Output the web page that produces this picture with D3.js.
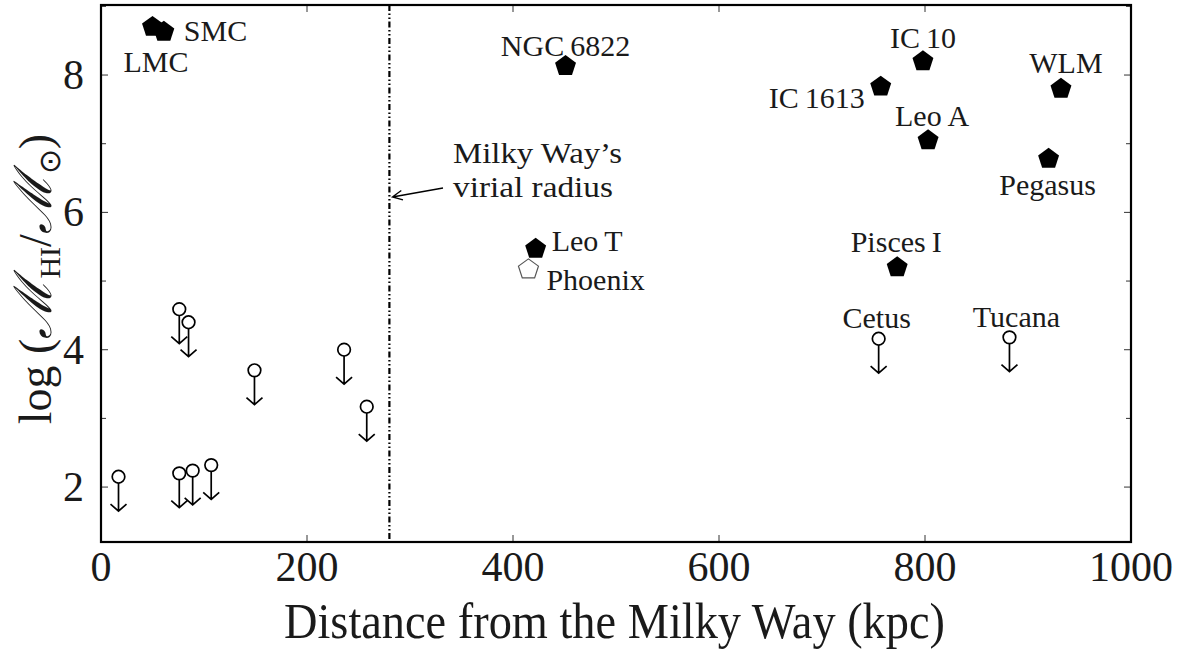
<!DOCTYPE html>
<html lang="en">
<head>
<meta charset="UTF-8">
<title>HI mass vs distance</title>
<script src="https://d3js.org/d3.v7.min.js"></script>
<style>
  body { margin: 0; background: #fff; }
  .frame { fill: none; stroke: #000; stroke-width: 2.2px; }
  .tick { stroke: #333; stroke-width: 1px; }
  .lim { fill: none; stroke: #000; stroke-width: 1.7px; }
</style>
</head>
<body>
<script>
// detected galaxies (filled pentagons)
const detNames = ["LMC", "SMC", "NGC\u20096822", "IC\u200910", "IC\u20091613", "WLM", "Leo A", "Pegasus", "Leo\u2009T", "Pisces\u2009I"];
const detDist  = [50, 61, 451, 798, 757, 932, 803, 920, 422, 773];
const detLogM  = [8.70, 8.63, 8.13, 8.20, 7.83, 7.80, 7.05, 6.78, 5.47, 5.20];

// Phoenix (open pentagon)
const phxDist = [415];
const phxLogM = [5.17];

// upper limits (open circle with arrow)
const limNames = ["", "", "", "", "", "", "", "", "", "Cetus", "Tucana"];
const limDist  = [17, 76, 85, 149, 236, 258, 76, 89, 107, 755, 882];
const limLogM  = [2.15, 4.59, 4.40, 3.70, 4.00, 3.17, 2.20, 2.24, 2.32, 4.16, 4.18];

// label placement (pixel offsets from the marker, anchor)
const labelPos = {
  "LMC": [-29, 45, "start"], "SMC": [20, 9, "start"], "NGC\u20096822": [0, -10, "middle"],
  "IC\u200910": [0, -13, "middle"], "IC\u20091613": [-16, 21, "end"], "WLM": [5, -16, "middle"],
  "Leo A": [4, -14, "middle"], "Pegasus": [-1, 36, "middle"], "Leo\u2009T": [16, 2, "start"],
  "Phoenix": [18, 21, "start"], "Pisces\u2009I": [-1, -15, "middle"],
  "Cetus": [-2, -11, "middle"], "Tucana": [7, -10, "middle"]
};

const virialR = 280;
const xTicks = [0, 200, 400, 600, 800, 1000];
const yTicks = [2, 3, 4, 5, 6, 7, 8, 9];
const yLabels = [2, 4, 6, 8];

const W = 1188, H = 651;
const m = { left: 101, right: 1131, top: 5, bottom: 542 };
const serif = "Liberation Serif";

const svg = d3.select("body").append("svg").attr("width", W).attr("height", H)
  .attr("font-family", serif);

const x = d3.scaleLinear().domain([0, 1000]).range([m.left, m.right]);
const y = d3.scaleLinear().domain([1.2, 9.02]).range([m.bottom, m.top]);

const txt = (sel) => sel.attr("font-family", serif).attr("fill", "#1a1a1a");

// ticks, inward on all four sides
const g = svg.append("g");
xTicks.forEach(t => {
  g.append("line").attr("class", "tick").attr("x1", x(t)).attr("x2", x(t)).attr("y1", m.bottom).attr("y2", m.bottom - 7);
  g.append("line").attr("class", "tick").attr("x1", x(t)).attr("x2", x(t)).attr("y1", m.top).attr("y2", m.top + 7);
  txt(g.append("text")).attr("x", x(t)).attr("y", 581).attr("text-anchor", "middle")
    .attr("font-size", 42).text(t);
});
yTicks.forEach(t => {
  if (t > 9.02) return;
  const len = yLabels.includes(t) ? 7 : 5;
  g.append("line").attr("class", "tick").attr("x1", m.left).attr("x2", m.left + len).attr("y1", y(t)).attr("y2", y(t));
  g.append("line").attr("class", "tick").attr("x1", m.right).attr("x2", m.right - len).attr("y1", y(t)).attr("y2", y(t));
});
yLabels.forEach(t => {
  txt(g.append("text")).attr("x", 84).attr("y", y(t) + 14).attr("text-anchor", "end")
    .attr("font-size", 42).text(t);
});

// virial radius line
svg.append("line")
  .attr("x1", x(virialR)).attr("x2", x(virialR)).attr("y1", m.top).attr("y2", m.bottom)
  .attr("stroke", "#000").attr("stroke-width", 2.2)
  .attr("stroke-dasharray", "6,2.5,1.5,2.5,1.5,2.5");

// frame
svg.append("rect").attr("class", "frame")
  .attr("x", m.left).attr("y", m.top).attr("width", m.right - m.left).attr("height", m.bottom - m.top);

// pentagon path
const pent = r => {
  const pts = d3.range(5).map(i => {
    const a = -Math.PI / 2 + i * 2 * Math.PI / 5;
    return [r * Math.cos(a), r * Math.sin(a)];
  });
  return d3.line()(pts) + "Z";
};

detNames.forEach((n, i) => {
  svg.append("path").attr("d", pent(11))
    .attr("transform", `translate(${x(detDist[i])},${y(detLogM[i])})`)
    .attr("fill", "#000");
});
svg.append("path").attr("d", pent(10.5))
  .attr("transform", `translate(${x(phxDist[0])},${y(phxLogM[0])})`)
  .attr("fill", "#fff").attr("stroke", "#555").attr("stroke-width", 1.2);

// upper limits
const arrowLen = 0.5;
limDist.forEach((d, i) => {
  const cx = x(d), cy = y(limLogM[i]);
  const tip = y(limLogM[i] - arrowLen);
  svg.append("circle").attr("class", "lim").attr("cx", cx).attr("cy", cy).attr("r", 6.3);
  svg.append("path").attr("class", "lim")
    .attr("d", `M${cx},${cy + 6.3}V${tip}M${cx - 8},${tip - 7}L${cx},${tip}L${cx + 8},${tip - 7}`);
});

// labels
const lab = (name, px, py) => {
  const p = labelPos[name];
  txt(svg.append("text")).attr("x", px + p[0]).attr("y", py + p[1]).attr("text-anchor", p[2])
    .attr("font-size", 30).text(name);
};
detNames.forEach((n, i) => lab(n, x(detDist[i]), y(detLogM[i])));
lab("Phoenix", x(phxDist[0]), y(phxLogM[0]));
limNames.forEach((n, i) => { if (n) lab(n, x(limDist[i]), y(limLogM[i])); });

// virial radius annotation
txt(svg.append("text")).attr("x", 453).attr("y", 163).attr("font-size", 30)
  .attr("textLength", 169).attr("lengthAdjust", "spacingAndGlyphs").text("Milky Way\u2019s");
txt(svg.append("text")).attr("x", 453).attr("y", 197).attr("font-size", 30)
  .attr("textLength", 160).attr("lengthAdjust", "spacingAndGlyphs").text("virial radius");
const ax0 = 443, ay0 = 188, ax1 = x(virialR) + 3, ay1 = 197;
const ang = Math.atan2(ay1 - ay0, ax1 - ax0);
const hl = 11, hw = 0.45;
svg.append("path").attr("fill", "none").attr("stroke", "#000").attr("stroke-width", 1.3)
  .attr("d", `M${ax0},${ay0}L${ax1},${ay1}` +
    `M${ax1 - hl * Math.cos(ang - hw)},${ay1 - hl * Math.sin(ang - hw)}L${ax1},${ay1}` +
    `L${ax1 - hl * Math.cos(ang + hw)},${ay1 - hl * Math.sin(ang + hw)}`);

// axis titles
txt(svg.append("text")).attr("x", 284).attr("y", 638)
  .attr("font-size", 50).attr("textLength", 661).attr("lengthAdjust", "spacingAndGlyphs")
  .text("Distance from the Milky Way (kpc)");

const yl = txt(svg.append("text")).attr("transform", "translate(51,279) rotate(-90)")
  .attr("text-anchor", "middle").attr("font-size", 46);
yl.append("tspan").text("log (");
yl.append("tspan").attr("font-style", "italic").attr("font-size", 52).text("\u2133");
yl.append("tspan").attr("dy", 9).attr("font-size", 30).text("HI");
yl.append("tspan").attr("dy", -9).text("/");
yl.append("tspan").attr("font-style", "italic").attr("font-size", 52).text("\u2133");
yl.append("tspan").attr("dy", 9).attr("font-size", 30).text("\u2299");
yl.append("tspan").attr("dy", -9).text(")");
</script>
</body>
</html>
